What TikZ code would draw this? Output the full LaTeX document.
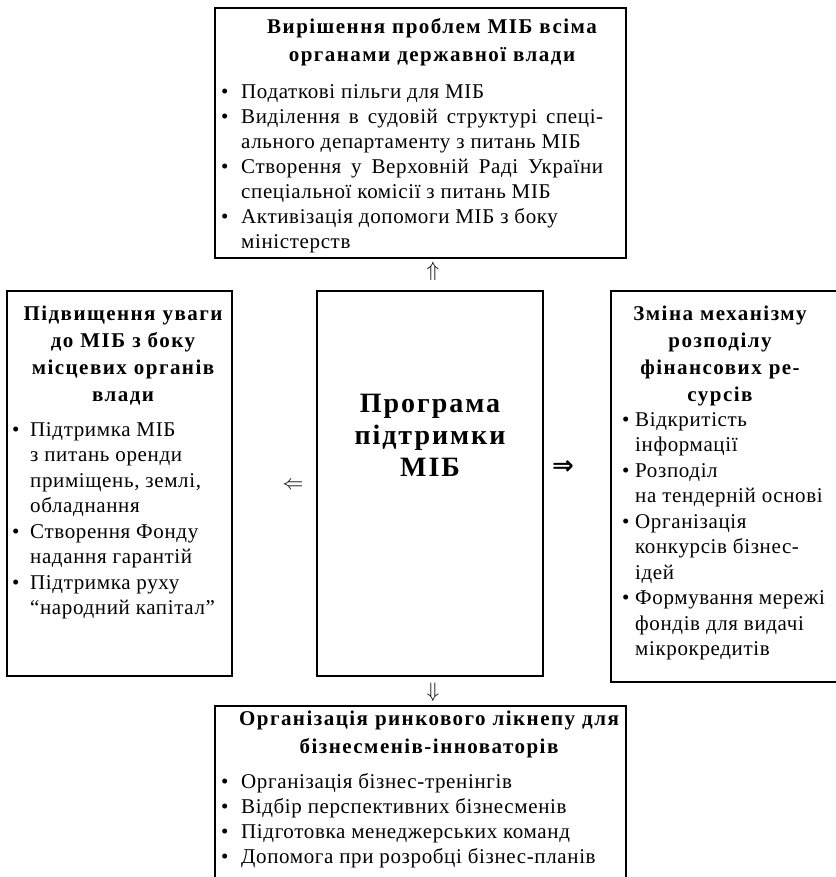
\documentclass[tikz,border=0pt]{standalone}
\usepackage{amsmath}
\usepackage{fontspec}
\setmainfont{Liberation Serif}
\newfontfamily\ttlfam[LetterSpace=7]{Liberation Serif}
\newfontfamily\bodyfam[LetterSpace=3]{Liberation Serif}
\newfontfamily\arrfam{DejaVu Sans}
\newlength\bulw
\newcommand\bitem[1]{\par\noindent\hangindent=\bulw\hangafter=1\relax\makebox[\bulw][l]{•}\strut#1\par}
\hyphenpenalty=10000
\exhyphenpenalty=10000
\hbadness=10000
\begin{document}
\begin{tikzpicture}[x=1pt,y=1pt,
  frame/.style={draw, line width=1.1pt, inner sep=0pt, outer sep=0pt, anchor=north west},
  ttl/.style={font=\ttlfam\bfseries\fontsize{21}{28}\selectfont, align=center, inner sep=0pt, anchor=north},
  ttlb/.style={font=\ttlfam\bfseries\fontsize{21}{27}\selectfont, align=center, inner sep=0pt, anchor=north},
  body/.style={font=\bodyfam\fontsize{21}{25}\selectfont, align=justify, inner sep=0pt, anchor=north west},
  bodyb/.style={font=\bodyfam\fontsize{21}{25.5}\selectfont, align=justify, inner sep=0pt, anchor=north west},
  arr/.style={inner sep=0pt, font=\fontsize{20}{24}\selectfont}]
\useasboundingbox (0,0) rectangle (835,-877);
% top
\node[frame, minimum width=411pt, minimum height=250pt] (topbox) at (215,-8) {};
\node[ttl, text width=408pt] (toptitle) at (432,-13.4) {\strut Вирішення проблем МІБ всіма\\органами державної влади};
\node[body, text width=382pt] (topbody) at (221,-73) {\setlength\bulw{20pt}%
\bitem{Податкові пільги для МІБ}%
\bitem{Виділення в судовій структурі спеці-\linebreak ального департаменту з питань МІБ}%
\bitem{Створення у Верховній Раді України\linebreak спеціальної комісії з питань МІБ}%
\bitem{Активізація допомоги МІБ з боку\newline міністерств}};
% left
\node[frame, minimum width=225pt, minimum height=385pt] (leftbox) at (7,-291) {};
\node[ttlb, text width=222pt] (lefttitle) at (123,-301.6) {\strut Підвищення уваги\\до МІБ з боку\\місцевих органів\\влади};
\node[bodyb, text width=216pt] (leftbody) at (12,-410.7) {\setlength\bulw{18pt}%
\bitem{Підтримка МІБ\newline з питань оренди\newline приміщень, землі,\newline обладнання}%
\bitem{Створення Фонду\newline надання гарантій}%
\bitem{Підтримка руху\newline “народний капітал”}};
% center
\node[frame, minimum width=226pt, minimum height=385pt] (centerbox) at (317,-291) {};
\node[inner sep=0pt, align=center, font=\ttlfam\bfseries\fontsize{28}{32}\selectfont] (centertitle) at (430,-435) {Програма\\підтримки\\МІБ};
% right
\node[frame, minimum width=230pt, minimum height=391pt] (rightbox) at (611,-291) {};
\node[ttlb, text width=222pt] (righttitle) at (720,-301.6) {\strut Зміна механізму\\розподілу\\фінансових ре-\\сурсів};
\node[bodyb, text width=212pt] (rightbody) at (622,-400.7) {\setlength\bulw{13pt}%
\bitem{Відкритість\newline інформації}%
\bitem{Розподіл\newline на тендерній основі}%
\bitem{Організація\newline конкурсів бізнес-\newline ідей}%
\bitem{Формування мережі\newline фондів для видачі\newline мікрокредитів}};
% bottom
\node[frame, minimum width=411pt, minimum height=200pt] (botbox) at (215,-706) {};
\node[ttl, text width=411pt] (bottitle) at (429,-705.9) {\strut Організація ринкового лікнепу для\\бізнесменів-інноваторів};
\node[body, text width=382pt] (botbody) at (221,-763) {\setlength\bulw{20pt}%
\bitem{Організація бізнес-тренінгів}%
\bitem{Відбір перспективних бізнесменів}%
\bitem{Підготовка менеджерських команд}%
\bitem{Допомога при розробці бізнес-планів}};
% arrows
\node[arr] (aup) at (433,-271) {$\Uparrow$};
\node[arr] (aleft) at (293,-486) {$\Leftarrow$};
\node[arr, font=\arrfam\bfseries\fontsize{26}{30}\selectfont] (aright) at (563,-467) {⇒};
\node[arr] (adown) at (433,-692) {$\Downarrow$};
\end{tikzpicture}
\end{document}
